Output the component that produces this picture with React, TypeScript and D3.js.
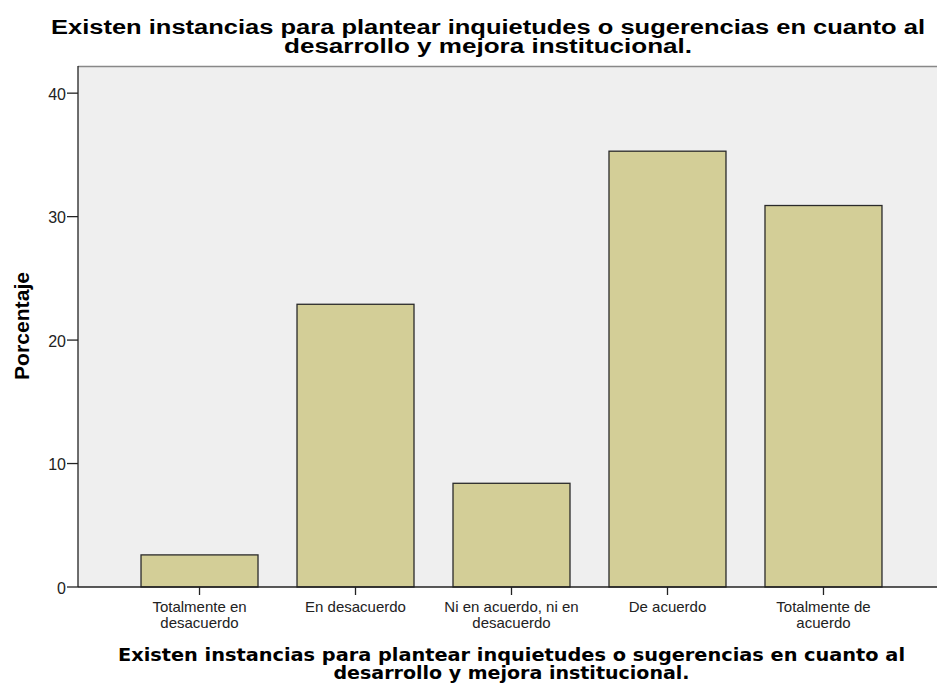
import React from "react";
import * as d3 from "d3";

const categories: string[][] = [
  ["Totalmente en", "desacuerdo"],
  ["En desacuerdo"],
  ["Ni en acuerdo, ni en", "desacuerdo"],
  ["De acuerdo"],
  ["Totalmente de", "acuerdo"],
];
const percentages: number[] = [2.6, 22.9, 8.4, 35.3, 30.9];
const yTicks: number[] = [0, 10, 20, 30, 40];
const titleLines: string[] = [
  "Existen instancias para plantear inquietudes o sugerencias en cuanto al",
  "desarrollo y mejora institucional.",
];
const yLabel = "Porcentaje";

const W = 937;
const H = 686;
const plotLeft = 78;
const plotRight = 945;
const plotTop = 66;
const plotBottom = 587;

// widths the title lines are set to
const titleWidths = [874, 408];
const axisTitleWidths = [787, 356];

export default function App() {
  const keys = categories.map((c) => c.join(" "));
  const x = d3
    .scaleBand<string>()
    .domain(keys)
    .range([plotLeft, plotRight])
    .paddingInner(0.25)
    .paddingOuter(0.404);
  const y = d3.scaleLinear().domain([0, 42.2]).range([plotBottom, plotTop]);

  const sans = "'Liberation Sans', Arial, sans-serif";
  const dejavu = "'DejaVu Sans', sans-serif";

  return (
    <svg
      width={W}
      height={H}
      style={{ position: "absolute", left: 0, top: 0, display: "block" }}
    >
      <rect x={0} y={0} width={W} height={H} fill="#ffffff" />
      {/* chart title */}
      {titleLines.map((t, i) => (
        <text
          key={i}
          x={488}
          y={33.5 + i * 19.5}
          textAnchor="middle"
          fontFamily={sans}
          fontWeight="bold"
          fontSize={20}
          textLength={titleWidths[i]}
          lengthAdjust="spacingAndGlyphs"
          fill="#000"
        >
          {t}
        </text>
      ))}

      {/* plot background */}
      <rect
        x={plotLeft}
        y={plotTop}
        width={W - plotLeft}
        height={plotBottom - plotTop}
        fill="#efefef"
      />
      <line
        x1={plotLeft}
        x2={W}
        y1={plotTop + 0.5}
        y2={plotTop + 0.5}
        stroke="#888"
        strokeWidth={1.5}
      />

      {/* bars */}
      {percentages.map((v, i) => (
        <rect
          key={i}
          x={x(keys[i])!}
          y={y(v)}
          width={x.bandwidth()}
          height={y(0) - y(v)}
          fill="#d3ce97"
          stroke="#2a2a2a"
          strokeWidth={1.3}
        />
      ))}

      {/* y axis */}
      <line
        x1={plotLeft}
        x2={plotLeft}
        y1={plotTop}
        y2={plotBottom}
        stroke="#222"
        strokeWidth={1.3}
      />
      {yTicks.map((t) => (
        <g key={t}>
          <line
            x1={plotLeft - 11}
            x2={plotLeft}
            y1={y(t)}
            y2={y(t)}
            stroke="#222"
            strokeWidth={1.3}
          />
          <text
            x={plotLeft - 12}
            y={y(t) + 6.5}
            textAnchor="end"
            fontFamily={sans}
            fontSize={16}
            fill="#222"
          >
            {t}
          </text>
        </g>
      ))}
      <text
        transform={`translate(29,326) rotate(-90)`}
        textAnchor="middle"
        fontFamily={sans}
        fontWeight="bold"
        fontSize={20}
        textLength={108}
        lengthAdjust="spacingAndGlyphs"
        fill="#000"
      >
        {yLabel}
      </text>

      {/* x axis */}
      <line
        x1={plotLeft}
        x2={W}
        y1={plotBottom}
        y2={plotBottom}
        stroke="#222"
        strokeWidth={1.3}
      />
      {categories.map((lines, i) => {
        const cx = x(keys[i])! + x.bandwidth() / 2;
        return (
          <g key={i}>
            <line
              x1={cx}
              x2={cx}
              y1={plotBottom}
              y2={plotBottom + 8}
              stroke="#222"
              strokeWidth={1.3}
            />
            <text
              textAnchor="middle"
              fontFamily={sans}
              fontSize={15}
              fill="#222"
            >
              {lines.map((l, j) => (
                <tspan key={j} x={cx} y={612 + j * 16}>
                  {l}
                </tspan>
              ))}
            </text>
          </g>
        );
      })}

      {/* x axis title */}
      {titleLines.map((t, i) => (
        <text
          key={i}
          x={511.5}
          y={661 + i * 18}
          textAnchor="middle"
          fontFamily={dejavu}
          fontWeight="bold"
          fontSize={17}
          textLength={axisTitleWidths[i]}
          lengthAdjust="spacingAndGlyphs"
          fill="#000"
        >
          {t}
        </text>
      ))}
    </svg>
  );
}
